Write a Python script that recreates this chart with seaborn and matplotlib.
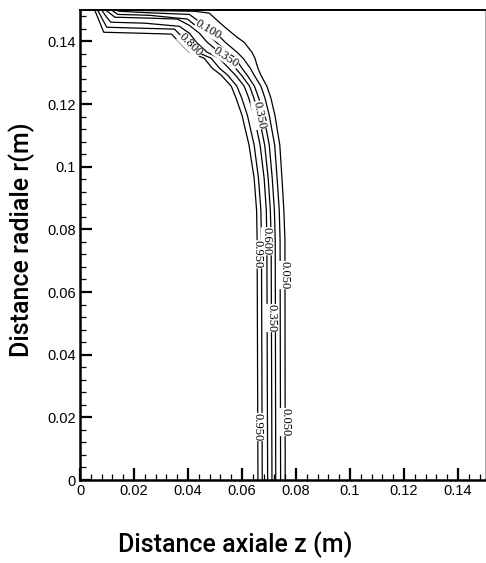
import numpy as np
import pandas as pd
import matplotlib
matplotlib.use("Agg")
import matplotlib.pyplot as plt
from matplotlib.ticker import FixedLocator, FixedFormatter, MultipleLocator
import seaborn as sns

# ---------------- data ----------------
levels = [0.95, 0.80, 0.60, 0.35, 0.20, 0.10, 0.05]

# lower part of each iso-line: z position at common radial rows
r_rows = [0.0, 0.0766, 0.0861, 0.0963, 0.1069, 0.1164, 0.1219, 0.1257,
          0.1292, 0.1314, 0.1346, 0.1365, 0.1397]
z_rows = {
    0.95: [0.0659, 0.0656, 0.0654, 0.0645, 0.0626, 0.0600, 0.0578, 0.0560, 0.0523, 0.0490, 0.0460, 0.0405, 0.0368],
    0.80: [0.0675, 0.0672, 0.0670, 0.0661, 0.0645, 0.0620, 0.0599, 0.0581, 0.0547, 0.0517, 0.0486, 0.0435, 0.0398],
    0.60: [0.0695, 0.0692, 0.0690, 0.0682, 0.0667, 0.0644, 0.0625, 0.0608, 0.0576, 0.0551, 0.0516, 0.0471, 0.0431],
    0.35: [0.0711, 0.0708, 0.0705, 0.0697, 0.0684, 0.0662, 0.0644, 0.0628, 0.0598, 0.0576, 0.0549, 0.0516, 0.0471],
    0.20: [0.0725, 0.0723, 0.0720, 0.0712, 0.0701, 0.0680, 0.0662, 0.0646, 0.0619, 0.0600, 0.0575, 0.0545, 0.0505],
    0.10: [0.0743, 0.0741, 0.0738, 0.0730, 0.0721, 0.0701, 0.0685, 0.0670, 0.0645, 0.0631, 0.0604, 0.0582, 0.0538],
    0.05: [0.0760, 0.0759, 0.0755, 0.0748, 0.0740, 0.0722, 0.0707, 0.0692, 0.0670, 0.0659, 0.0648, 0.0637, 0.0608],
}
# upper part of each iso-line, near the wall r = 0.15
top_z = {
    0.95: [0.0339, 0.0221, 0.0088, 0.0070, 0.0055],
    0.80: [0.0376, 0.0350, 0.0221, 0.0099, 0.0081, 0.0066],
    0.60: [0.0405, 0.0368, 0.0239, 0.0114, 0.0096, 0.0081],
    0.35: [0.0442, 0.0405, 0.0361, 0.0258, 0.0129, 0.0110, 0.0096],
    0.20: [0.0479, 0.0435, 0.0398, 0.0258, 0.0140, 0.0118],
    0.10: [0.0516, 0.0471, 0.0435, 0.0405, 0.0258, 0.0147, 0.0133],
    0.05: [0.0582, 0.0541, 0.0508, 0.0479, 0.0424, 0.0258, 0.0147],
}
top_r = {
    0.95: [0.1423, 0.1426, 0.1429, 0.1467, 0.1499],
    0.80: [0.1416, 0.1439, 0.1442, 0.1445, 0.1474, 0.1499],
    0.60: [0.1426, 0.1448, 0.1458, 0.1461, 0.1480, 0.1499],
    0.35: [0.1426, 0.1451, 0.1471, 0.1474, 0.1477, 0.1490, 0.1499],
    0.20: [0.1419, 0.1445, 0.1471, 0.1483, 0.1486, 0.1499],
    0.10: [0.1416, 0.1439, 0.1467, 0.1486, 0.1491, 0.1496, 0.1499],
    0.05: [0.1413, 0.1442, 0.1467, 0.1490, 0.1496, 0.1498, 0.1499],
}
# inline labels: (level, radial position)
label_spec = [(0.60, 0.0762), (0.95, 0.0720), (0.05, 0.0654), (0.35, 0.0517),
              (0.95, 0.0169), (0.05, 0.0185), (0.80, 0.1388), (0.10, 0.1437),
              (0.35, 0.1350), (0.35, 0.1164)]

x_ticks = [0, 0.02, 0.04, 0.06, 0.08, 0.10, 0.12, 0.14]
x_tick_labels = ["0", "0.02", "0.04", "0.06", "0.08", "0.1", "0.12", "0.14"]
y_ticks = [0, 0.02, 0.04, 0.06, 0.08, 0.10, 0.12, 0.14]
y_tick_labels = ["0", "0.02", "0.04", "0.06", "0.08", "0.1", "0.12", "0.14"]

x_label = "Distance axiale z (m)"
y_label = "Distance radiale r(m)"

# ---------------- build table ----------------
rows = []
for lv in levels:
    zs = list(z_rows[lv]) + list(top_z[lv])
    rs = list(r_rows) + list(top_r[lv])
    for i, (z, r) in enumerate(zip(zs, rs)):
        rows.append({"z": z, "r": r, "level": lv, "order": i})
df = pd.DataFrame(rows)

# ---------------- plot ----------------
sns.set_theme(style="ticks")
plt.rcParams["font.family"] = ["Liberation Sans", "DejaVu Sans"]
plt.rcParams["text.color"] = "black"
plt.rcParams["axes.labelcolor"] = "black"
plt.rcParams["xtick.color"] = "black"
plt.rcParams["ytick.color"] = "black"
plt.rcParams["axes.edgecolor"] = "black"

fig = plt.figure(figsize=(4.86, 5.63), dpi=100)
ax = fig.add_axes([80 / 486, 1 - 480 / 563, 405 / 486, 470 / 563])

sns.lineplot(data=df, x="z", y="r", hue="level", units="level", estimator=None,
             sort=False, palette={lv: "black" for lv in levels}, legend=False,
             linewidth=0.9, ax=ax)

ax.set_xlim(0, 0.15)
ax.set_ylim(0, 0.15)

# inline contour labels
fig.canvas.draw()
for j, (lv, rt) in enumerate(label_spec):
    zs = np.array(list(z_rows[lv]) + list(top_z[lv]))
    rs = np.array(list(r_rows) + list(top_r[lv]))
    zi = None
    for k in range(len(rs) - 1):
        if (rs[k] - rt) * (rs[k + 1] - rt) <= 0 and rs[k] != rs[k + 1]:
            t = (rt - rs[k]) / (rs[k + 1] - rs[k])
            zi = zs[k] + t * (zs[k + 1] - zs[k])
            p0 = ax.transData.transform((zs[k], rs[k]))
            p1 = ax.transData.transform((zs[k + 1], rs[k + 1]))
            break
    d = p1 - p0
    if d[1] > 0:
        d = -d
    ang = np.degrees(np.arctan2(d[1], d[0]))
    ax.text(zi, rt, f"{lv:.3f}", rotation=ang, rotation_mode="anchor",
            ha="center", va="center", fontsize=9,
            family=["Liberation Serif", "DejaVu Serif"],
            bbox=dict(facecolor="white", edgecolor="none", pad=0.0),
            zorder=5 + j)

ax.xaxis.set_major_locator(FixedLocator(x_ticks))
ax.xaxis.set_major_formatter(FixedFormatter(x_tick_labels))
ax.yaxis.set_major_locator(FixedLocator(y_ticks))
ax.yaxis.set_major_formatter(FixedFormatter(y_tick_labels))
ax.xaxis.set_minor_locator(MultipleLocator(0.004))
ax.yaxis.set_minor_locator(MultipleLocator(0.004))
ax.tick_params(which="both", direction="in", top=False, right=False,
               labelsize=10.5, colors="black", pad=3)
ax.tick_params(which="major", length=8.5, width=1.6)
ax.tick_params(which="minor", length=4.5, width=0.9)

for s in ["left", "bottom"]:
    ax.spines[s].set_linewidth(1.8)
ax.spines["top"].set_linewidth(1.4)
ax.spines["right"].set_linewidth(0.8)
ax.spines["right"].set_color("#aaaaaa")
for s in ax.spines.values():
    s.set_visible(True)

narrow = ["Roboto", "DejaVu Sans"]
ax.set_xlabel(x_label, fontsize=18, family=narrow, color="black", fontweight="medium")
ax.set_ylabel(y_label, fontsize=18, family=narrow, color="black", fontweight="medium")
ax.xaxis.set_label_coords((235 - 80) / 405, (480 - 545) / 470)
ax.yaxis.set_label_coords((22 - 80) / 405, (480 - 240) / 470)
ax.xaxis.label.set_va("center")
ax.yaxis.label.set_va("center")

fig.savefig("out.png", dpi=100)
